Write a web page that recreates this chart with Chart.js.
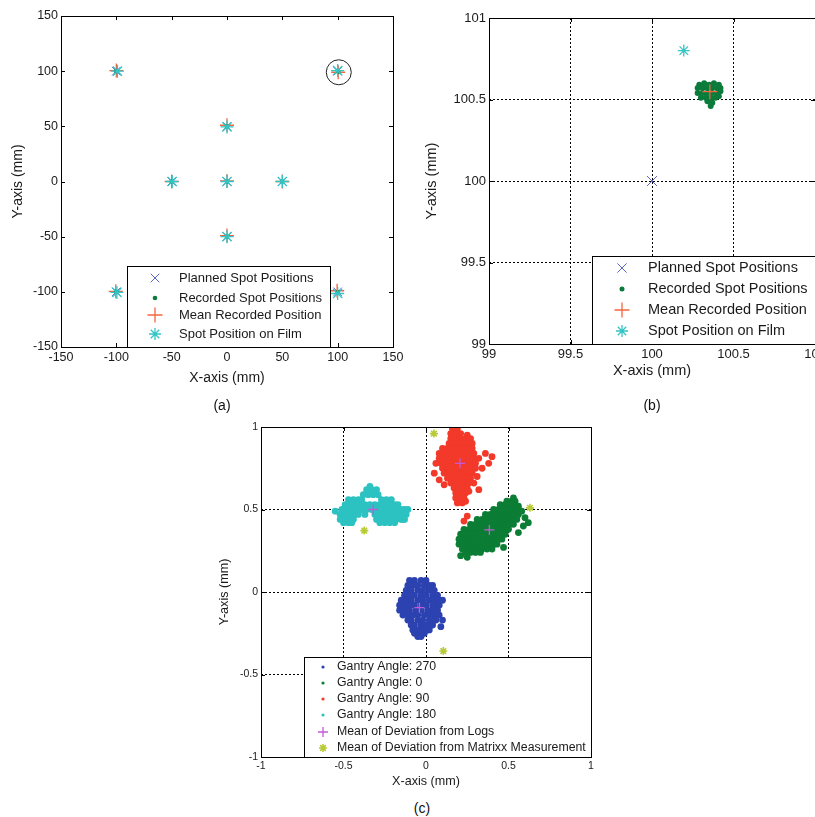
<!DOCTYPE html>
<html>
<head>
<meta charset="utf-8">
<script src="https://cdn.jsdelivr.net/npm/chart.js@4.4.0/dist/chart.umd.min.js"></script>
<style>
  body { margin: 0; width: 815px; height: 817px; overflow: hidden; background: #fff;
         font-family: "Liberation Sans", Arial, Helvetica, sans-serif; }
  .box { position: absolute; }
  .cap { position: absolute; font-size: 14px; color: #111; transform: translateX(-50%); }
</style>
</head>
<body>
<div class="box" style="left:0;top:0;width:410px;height:400px"><canvas id="chartA"></canvas></div>
<div class="box" style="left:410px;top:0;width:420px;height:400px"><canvas id="chartB"></canvas></div>
<div class="box" style="left:200px;top:410px;width:410px;height:390px"><canvas id="chartC"></canvas></div>
<div class="cap" style="left:222px;top:397px">(a)</div>
<div class="cap" style="left:652px;top:397px">(b)</div>
<div class="cap" style="left:422px;top:800px">(c)</div>
<script>
// ---------- (a) spot grid, mm ----------
const plannedX = [-100, 100, 0, -50, 0, 50, 0, -100, 100];
const plannedY = [100, 100, 50, 0, 0, 0, -50, -100, -100];
const recordedX = [-100, 100.5, 0, -50, 0, 50, 0, -100, 100];
const recordedY = [100, 99.5, 50, 0, 0, 0, -50, -100, -100.5];
const meanX = [-100, 100.5, 0, -50, 0, 50, 0, -100.5, 99.5];
const meanY = [100.5, 99, 51, 0, 0.5, 0, -49, -99.5, -99];
const filmX = [-99, 100, 0, -49.5, 0, 50, 0, -99.5, 100];
const filmY = [100, 100.5, 49.5, 0, 0, 0, -50, -100.5, -101.5];
const circleX = [101];
const circleY = [99];
const ticksA = [-150, -100, -50, 0, 50, 100, 150];

// ---------- (b) zoom on spot (100,100) ----------
const plannedBX = [100];
const plannedBY = [100];
const recordedB = [
  [100.29, 100.59], [100.32, 100.60], [100.35, 100.59], [100.38, 100.60], [100.41, 100.59],
  [100.28, 100.57], [100.31, 100.57], [100.34, 100.57], [100.37, 100.57], [100.40, 100.57], [100.42, 100.57],
  [100.28, 100.54], [100.31, 100.54], [100.34, 100.54], [100.37, 100.54], [100.40, 100.54], [100.42, 100.55],
  [100.30, 100.51], [100.33, 100.51], [100.36, 100.51], [100.39, 100.51], [100.41, 100.52],
  [100.34, 100.49], [100.37, 100.48], [100.36, 100.46]
];
const meanBX = [100.355];
const meanBY = [100.548];
const filmBX = [100.195];
const filmBY = [100.80];
const ticksB = [99, 99.5, 100, 100.5, 101];

// ---------- (c) deviations per gantry angle, mm ----------
const g270 = [
  [-0.10, 0.07], [-0.07, 0.07], [-0.03, 0.07], [0.00, 0.07],
  [-0.11, 0.04], [-0.08, 0.04], [-0.05, 0.04], [-0.01, 0.04], [0.02, 0.04], [0.04, 0.04],
  [-0.12, 0.01], [-0.09, 0.01], [-0.05, 0.01], [-0.02, 0.01], [0.02, 0.01], [0.05, 0.01],
  [-0.13, -0.02], [-0.10, -0.02], [-0.07, -0.02], [-0.03, -0.02], [0.00, -0.02], [0.04, -0.02], [0.07, -0.02],
  [-0.15, -0.05], [-0.12, -0.05], [-0.09, -0.05], [-0.05, -0.05], [-0.02, -0.05], [0.02, -0.05], [0.05, -0.05], [0.08, -0.05],
  [-0.16, -0.08], [-0.13, -0.08], [-0.10, -0.08], [-0.07, -0.08], [-0.03, -0.08], [0.00, -0.08], [0.04, -0.08], [0.07, -0.08], [0.08, -0.08],
  [-0.16, -0.11], [-0.13, -0.11], [-0.10, -0.11], [-0.06, -0.11], [-0.03, -0.11], [0.01, -0.11], [0.04, -0.11], [0.07, -0.11],
  [-0.14, -0.14], [-0.11, -0.14], [-0.08, -0.14], [-0.05, -0.14], [-0.01, -0.14], [0.02, -0.14], [0.05, -0.14], [0.08, -0.14],
  [-0.11, -0.17], [-0.09, -0.17], [-0.05, -0.17], [-0.02, -0.17], [0.02, -0.17], [0.05, -0.17], [0.06, -0.17],
  [-0.09, -0.20], [-0.07, -0.20], [-0.03, -0.20], [0.00, -0.20], [0.03, -0.20], [0.04, -0.20],
  [-0.08, -0.23], [-0.05, -0.23], [-0.02, -0.23], [0.01, -0.23], [0.02, -0.23],
  [-0.07, -0.25], [-0.04, -0.25], [-0.01, -0.25],
  [-0.05, -0.27], [-0.03, -0.27],
  [0.10, -0.17], [0.09, -0.21], [0.10, -0.05]
];
const g0 = [
  [0.49, 0.55], [0.52, 0.55], [0.54, 0.55],
  [0.45, 0.53], [0.48, 0.53], [0.51, 0.53], [0.54, 0.53], [0.56, 0.52],
  [0.41, 0.50], [0.44, 0.50], [0.47, 0.50], [0.50, 0.50], [0.53, 0.50], [0.56, 0.50],
  [0.36, 0.47], [0.39, 0.47], [0.42, 0.47], [0.45, 0.47], [0.48, 0.47], [0.51, 0.47], [0.54, 0.47], [0.56, 0.47],
  [0.31, 0.44], [0.34, 0.44], [0.37, 0.44], [0.40, 0.44], [0.43, 0.44], [0.46, 0.44], [0.49, 0.44], [0.52, 0.44], [0.55, 0.44],
  [0.27, 0.41], [0.30, 0.41], [0.33, 0.41], [0.36, 0.41], [0.39, 0.41], [0.42, 0.41], [0.45, 0.41], [0.48, 0.41], [0.51, 0.41], [0.53, 0.41],
  [0.23, 0.38], [0.26, 0.38], [0.29, 0.38], [0.32, 0.38], [0.35, 0.38], [0.38, 0.38], [0.41, 0.38], [0.44, 0.38], [0.47, 0.38], [0.50, 0.38],
  [0.21, 0.35], [0.24, 0.35], [0.27, 0.35], [0.30, 0.35], [0.33, 0.35], [0.36, 0.35], [0.39, 0.35], [0.42, 0.35], [0.45, 0.35], [0.48, 0.35],
  [0.20, 0.32], [0.23, 0.32], [0.26, 0.32], [0.29, 0.32], [0.32, 0.32], [0.35, 0.32], [0.38, 0.32], [0.41, 0.32], [0.44, 0.32], [0.46, 0.32],
  [0.20, 0.29], [0.23, 0.29], [0.26, 0.29], [0.29, 0.29], [0.32, 0.29], [0.35, 0.29], [0.38, 0.29], [0.41, 0.29], [0.43, 0.29],
  [0.22, 0.26], [0.25, 0.26], [0.28, 0.26], [0.31, 0.26], [0.34, 0.26], [0.37, 0.26], [0.40, 0.26],
  [0.24, 0.24], [0.27, 0.24], [0.30, 0.24], [0.33, 0.24],
  [0.60, 0.45], [0.62, 0.42], [0.59, 0.40], [0.58, 0.49], [0.53, 0.57], [0.21, 0.22], [0.25, 0.21], [0.56, 0.36], [0.47, 0.27]
];
const g90 = [
  [0.16, 0.99], [0.19, 0.99],
  [0.15, 0.96], [0.18, 0.96], [0.21, 0.96], [0.25, 0.95],
  [0.15, 0.93], [0.18, 0.93], [0.21, 0.93], [0.24, 0.93], [0.27, 0.93],
  [0.14, 0.90], [0.17, 0.90], [0.20, 0.90], [0.23, 0.90], [0.26, 0.90], [0.28, 0.90],
  [0.10, 0.87], [0.13, 0.87], [0.16, 0.87], [0.19, 0.87], [0.22, 0.87], [0.25, 0.87], [0.28, 0.87],
  [0.08, 0.84], [0.11, 0.84], [0.14, 0.84], [0.17, 0.84], [0.20, 0.84], [0.23, 0.84], [0.26, 0.84], [0.29, 0.84],
  [0.08, 0.81], [0.11, 0.81], [0.14, 0.81], [0.17, 0.81], [0.20, 0.81], [0.23, 0.81], [0.26, 0.81], [0.29, 0.81], [0.32, 0.81],
  [0.09, 0.78], [0.12, 0.78], [0.15, 0.78], [0.18, 0.78], [0.21, 0.78], [0.24, 0.78], [0.27, 0.78], [0.30, 0.78],
  [0.10, 0.75], [0.13, 0.75], [0.16, 0.75], [0.19, 0.75], [0.22, 0.75], [0.25, 0.75], [0.28, 0.75], [0.30, 0.75],
  [0.11, 0.72], [0.14, 0.72], [0.17, 0.72], [0.20, 0.72], [0.23, 0.72], [0.26, 0.72], [0.28, 0.72],
  [0.13, 0.69], [0.16, 0.69], [0.19, 0.69], [0.22, 0.69], [0.25, 0.69], [0.27, 0.69],
  [0.15, 0.66], [0.18, 0.66], [0.21, 0.66], [0.24, 0.66], [0.26, 0.66],
  [0.17, 0.63], [0.20, 0.63], [0.23, 0.63], [0.25, 0.63],
  [0.18, 0.60], [0.21, 0.60], [0.24, 0.60], [0.26, 0.61],
  [0.18, 0.57], [0.21, 0.57], [0.23, 0.57],
  [0.19, 0.54], [0.22, 0.54], [0.24, 0.55],
  [0.36, 0.84], [0.40, 0.82], [0.38, 0.78], [0.34, 0.75], [0.06, 0.78], [0.05, 0.72],
  [0.08, 0.68], [0.11, 0.65], [0.31, 0.70], [0.32, 0.62], [0.25, 0.46], [0.23, 0.43], [0.29, 0.66]
];
const g180 = [
  [-0.36, 0.62], [-0.33, 0.62], [-0.30, 0.62],
  [-0.38, 0.59], [-0.35, 0.59], [-0.32, 0.59], [-0.29, 0.59],
  [-0.47, 0.56], [-0.44, 0.56], [-0.41, 0.56], [-0.39, 0.56], [-0.27, 0.56], [-0.24, 0.56], [-0.21, 0.56],
  [-0.49, 0.53], [-0.46, 0.53], [-0.43, 0.53], [-0.40, 0.53], [-0.37, 0.53], [-0.34, 0.53], [-0.31, 0.53],
  [-0.28, 0.53], [-0.25, 0.53], [-0.22, 0.53], [-0.19, 0.53], [-0.17, 0.53],
  [-0.51, 0.50], [-0.48, 0.50], [-0.45, 0.50], [-0.42, 0.50], [-0.39, 0.50], [-0.36, 0.50], [-0.33, 0.50],
  [-0.30, 0.50], [-0.27, 0.50], [-0.24, 0.50], [-0.21, 0.50], [-0.18, 0.50], [-0.15, 0.50], [-0.13, 0.50],
  [-0.52, 0.47], [-0.49, 0.47], [-0.46, 0.47], [-0.43, 0.47], [-0.41, 0.47], [-0.31, 0.47], [-0.28, 0.47],
  [-0.25, 0.47], [-0.22, 0.47], [-0.19, 0.47], [-0.16, 0.47], [-0.13, 0.47], [-0.12, 0.47],
  [-0.52, 0.44], [-0.49, 0.44], [-0.46, 0.44], [-0.44, 0.44], [-0.30, 0.44], [-0.27, 0.44], [-0.24, 0.44],
  [-0.21, 0.44], [-0.18, 0.44], [-0.15, 0.44], [-0.13, 0.44],
  [-0.50, 0.42], [-0.47, 0.42], [-0.45, 0.42], [-0.28, 0.42], [-0.25, 0.42], [-0.22, 0.42], [-0.19, 0.42],
  [-0.55, 0.49], [-0.14, 0.44], [-0.34, 0.64], [-0.11, 0.50], [-0.37, 0.47]
];
const logsX = [-0.04, 0.384, 0.206, -0.32];
const logsY = [-0.095, 0.376, 0.78, 0.50];
const matrixxX = [0.105, 0.63, 0.048, -0.374];
const matrixxY = [-0.358, 0.51, 0.96, 0.372];
const ticksC = [-1, -0.5, 0, 0.5, 1];

Chart.defaults.font.family = '"Liberation Sans", Arial, Helvetica, sans-serif';
Chart.defaults.color = "#1a1a1a";

const xy = (xs, ys) => xs.map((x, i) => ({ x: x, y: ys[i] }));
const pairs = (list) => list.map((p) => ({ x: p[0], y: p[1] }));

// MATLAB-like box: frame, inner ticks, legend box inside the axes
const matBox = {
  id: "matBox",
  afterDatasetsDraw(chart, args, opts) {
    const ctx = chart.ctx;
    const a = chart.chartArea;
    const sx = chart.scales.x, sy = chart.scales.y;
    ctx.save();
    ctx.strokeStyle = "#000";
    ctx.lineWidth = 1;
    ctx.beginPath();
    sx.ticks.forEach((t) => {
      const px = Math.round(sx.getPixelForValue(t.value)) + 0.5;
      ctx.moveTo(px, a.bottom); ctx.lineTo(px, a.bottom - 4);
      ctx.moveTo(px, a.top); ctx.lineTo(px, a.top + 4);
    });
    sy.ticks.forEach((t) => {
      const py = Math.round(sy.getPixelForValue(t.value)) + 0.5;
      ctx.moveTo(a.left, py); ctx.lineTo(a.left + 4, py);
      ctx.moveTo(a.right, py); ctx.lineTo(a.right - 4, py);
    });
    ctx.stroke();
    ctx.strokeRect(Math.round(a.left) + 0.5, Math.round(a.top) + 0.5,
                   Math.round(a.right - a.left), Math.round(a.bottom - a.top));

    // legend
    const lx = Math.round(a.left + opts.left) + 0.5;
    const ly = Math.round(a.top + opts.top) + 0.5;
    ctx.fillStyle = "#fff";
    ctx.fillRect(lx, ly, opts.width, opts.height);
    ctx.strokeRect(lx, ly, opts.width, opts.height);
    ctx.font = opts.font;
    ctx.textBaseline = "middle";
    let row = 0;
    chart.data.datasets.forEach((ds) => {
      if (!ds.label) return;
      const y = a.top + opts.rows[row];
      ctx.fillStyle = ds.backgroundColor;
      ctx.strokeStyle = ds.borderColor;
      ctx.lineWidth = ds.borderWidth;
      Chart.helpers.drawPoint(ctx, {
        pointStyle: ds.pointStyle, radius: ds.legendRadius,
        borderWidth: ds.borderWidth, rotation: 0,
      }, a.left + opts.markX, y);
      ctx.fillStyle = "#1a1a1a";
      ctx.fillText(ds.label, a.left + opts.textX, y);
      row++;
    });
    ctx.restore();
  },
};

function axis(min, max, ticks, title, tickSize, titleSize, fit, isY, grid) {
  return {
    type: "linear",
    min: min,
    max: max,
    afterBuildTicks: (s) => { s.ticks = ticks.map((v) => ({ value: v })); },
    afterFit: (s) => { if (isY) s.width = fit; else s.height = fit; },
    ticks: { font: { size: tickSize }, padding: 3, maxRotation: 0, autoSkip: false, color: "#1a1a1a",
             callback: (v) => String(v) },
    title: { display: true, text: title, font: { size: titleSize }, padding: 0, color: "#1a1a1a" },
    grid: { display: grid, color: "#000", lineWidth: 1, drawTicks: false },
    border: { display: false, dash: [2, 2] },
  };
}

function baseOptions(padding, legend, scales) {
  return {
    responsive: true,
    maintainAspectRatio: false,
    animation: false,
    events: [],
    layout: { padding: padding },
    plugins: { legend: { display: false }, tooltip: { enabled: false }, matBox: legend },
    scales: scales,
  };
}

// (a)
var ctxA = document.getElementById("chartA").getContext("2d");
var chartA = new Chart(ctxA, {
  type: "scatter",
  data: {
    datasets: [
      { label: "Planned Spot Positions", data: xy(plannedX, plannedY), pointStyle: "crossRot",
        pointRadius: 6, legendRadius: 6, borderColor: "#5a63c8", backgroundColor: "#5a63c8", borderWidth: 1, order: 4 },
      { label: "Recorded Spot Positions", data: xy(recordedX, recordedY), pointStyle: "circle",
        pointRadius: 2.3, legendRadius: 2.3, borderColor: "#0b7b3b", backgroundColor: "#0b7b3b", borderWidth: 0, order: 2 },
      { label: "Mean Recorded Position", data: xy(meanX, meanY), pointStyle: "cross",
        pointRadius: 7, legendRadius: 7.5, borderColor: "#f4653f", backgroundColor: "#f4653f", borderWidth: 1.3, order: 3 },
      { label: "Spot Position on Film", data: xy(filmX, filmY), pointStyle: "star",
        pointRadius: 6.5, legendRadius: 6, borderColor: "#33c4c6", backgroundColor: "#33c4c6", borderWidth: 1.3, order: 1 },
      { data: xy(circleX, circleY), pointStyle: "circle", pointRadius: 12.5,
        borderColor: "#222", backgroundColor: "rgba(0,0,0,0)", borderWidth: 1, order: 0 },
    ],
  },
  options: baseOptions(
    { left: 9.6, top: 16, right: 17, bottom: 13.6 },
    { left: 66, top: 250, width: 203, height: 81, markX: 94, textX: 118,
      rows: [262, 282, 299, 318], font: '13px "Liberation Sans", Arial, sans-serif' },
    {
      x: axis(-150, 150, ticksA, "X-axis (mm)", 12.5, 14, 39.4, false, false),
      y: axis(-150, 150, ticksA, "Y-axis (mm)", 12.5, 14, 51.4, true, false),
    }
  ),
  plugins: [matBox],
});

// (b)
var ctxB = document.getElementById("chartB").getContext("2d");
var chartB = new Chart(ctxB, {
  type: "scatter",
  data: {
    datasets: [
      { label: "Planned Spot Positions", data: xy(plannedBX, plannedBY), pointStyle: "crossRot",
        pointRadius: 7, legendRadius: 6.5, borderColor: "#5a63c8", backgroundColor: "#5a63c8", borderWidth: 1, order: 4 },
      { label: "Recorded Spot Positions", data: pairs(recordedB), pointStyle: "circle",
        pointRadius: 3, legendRadius: 2.5, borderColor: "#0b7b3b", backgroundColor: "#0b7b3b", borderWidth: 0, order: 3 },
      { label: "Mean Recorded Position", data: xy(meanBX, meanBY), pointStyle: "cross",
        pointRadius: 7.5, legendRadius: 7.5, borderColor: "#f4653f", backgroundColor: "#f4653f", borderWidth: 1.3, order: 1 },
      { label: "Spot Position on Film", data: xy(filmBX, filmBY), pointStyle: "star",
        pointRadius: 6, legendRadius: 6, borderColor: "#33c4c6", backgroundColor: "#33c4c6", borderWidth: 1.3, order: 2 },
    ],
  },
  options: baseOptions(
    { left: 13.3, top: 18, right: 15, bottom: 20.6 },
    { left: 103, top: 238, width: 240, height: 88, markX: 133, textX: 159,
      rows: [250, 271, 292, 313], font: '14.5px "Liberation Sans", Arial, sans-serif' },
    {
      x: axis(99, 101, ticksB, "X-axis (mm)", 13, 14.5, 35.4, false, true),
      y: axis(99, 101, ticksB, "Y-axis (mm)", 13, 14.5, 65.7, true, true),
    }
  ),
  plugins: [matBox],
});

// (c)
var ctxC = document.getElementById("chartC").getContext("2d");
var chartC = new Chart(ctxC, {
  type: "scatter",
  data: {
    datasets: [
      { label: "Gantry Angle: 270", data: pairs(g270), pointStyle: "circle", pointRadius: 3.4,
        legendRadius: 1.6, borderColor: "#2c42b0", backgroundColor: "#2c42b0", borderWidth: 0, order: 5 },
      { label: "Gantry Angle: 0", data: pairs(g0), pointStyle: "circle", pointRadius: 3.4,
        legendRadius: 1.6, borderColor: "#0b7d34", backgroundColor: "#0b7d34", borderWidth: 0, order: 4 },
      { label: "Gantry Angle: 90", data: pairs(g90), pointStyle: "circle", pointRadius: 3.4,
        legendRadius: 1.6, borderColor: "#f2392a", backgroundColor: "#f2392a", borderWidth: 0, order: 3 },
      { label: "Gantry Angle: 180", data: pairs(g180), pointStyle: "circle", pointRadius: 3.4,
        legendRadius: 1.6, borderColor: "#2cc2c2", backgroundColor: "#2cc2c2", borderWidth: 0, order: 2 },
      { label: "Mean of Deviation from Logs", data: xy(logsX, logsY), pointStyle: "cross", pointRadius: 5,
        legendRadius: 5, borderColor: "#c45ad6", backgroundColor: "#c45ad6", borderWidth: 1.3, order: 1 },
      { label: "Mean of Deviation from Matrixx Measurement", data: xy(matrixxX, matrixxY), pointStyle: "star",
        pointRadius: 4, legendRadius: 4, borderColor: "#b8c936", backgroundColor: "#b8c936", borderWidth: 1.6, order: 0 },
    ],
  },
  options: baseOptions(
    { left: 17.4, top: 17, right: 19, bottom: 11.4 },
    { left: 43, top: 230, width: 287, height: 100, markX: 62, textX: 76,
      rows: [240, 256, 272, 288, 305, 321], font: '12.3px "Liberation Sans", Arial, sans-serif' },
    {
      x: axis(-1, 1, ticksC, "X-axis (mm)", 10.5, 12.6, 31.6, false, true),
      y: axis(-1, 1, ticksC, "Y-axis (mm)", 10.5, 12.6, 43.6, true, true),
    }
  ),
  plugins: [matBox],
});
</script>
</body>
</html>
